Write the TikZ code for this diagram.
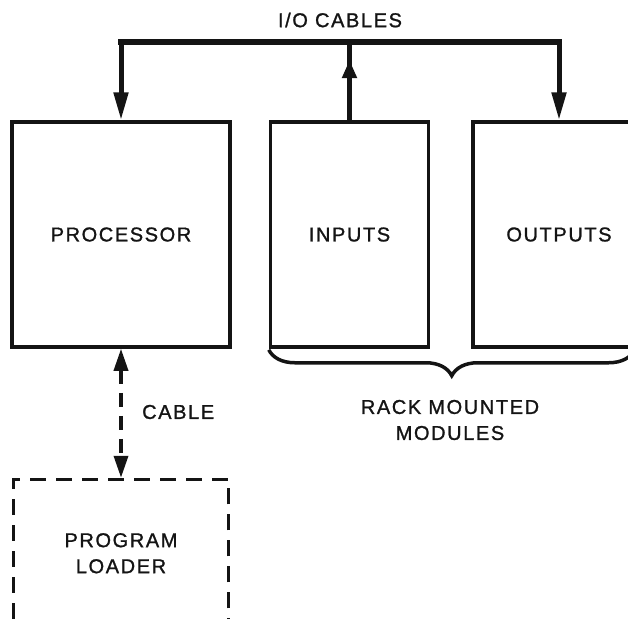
\documentclass[tikz,border=0pt]{standalone}
\usepackage{fontspec}
\setsansfont[LetterSpace=8,FakeBold=1.2]{Liberation Sans}
\usepackage{tikz}
\usetikzlibrary{arrows.meta,positioning,decorations.pathreplacing}
\definecolor{ink}{RGB}{20,20,20}

\begin{document}
\begin{tikzpicture}[x=1pt,y=-1pt,
  font=\sffamily\fontsize{20}{26}\selectfont,
  box/.style={draw=ink,line width=3.5pt,minimum height=225pt,align=center,inner sep=0pt,text=ink},
  ldr/.style={box,line width=3pt,dash pattern=on 16pt off 10pt,minimum width=215pt,minimum height=148pt},
  lbl/.style={text=ink,align=center,inner sep=0pt},
  ar/.style={-{Triangle[length=28pt,width=14pt]},line width=5pt,draw=ink},
  upar/.style={ar,-{Triangle[length=18pt,width=14pt]}},
  bus/.style={line width=6pt,draw=ink,line cap=rect},
  dar/.style={{Triangle[length=22pt,width=14pt]}-{Triangle[length=22pt,width=14pt]},
              line width=3.5pt,draw=ink,dash pattern=on 14pt off 9pt},
  brc/.style={decorate,decoration={brace,mirror,amplitude=26pt},line width=3.5pt,draw=ink}]

\useasboundingbox (0,0) rectangle (628,618);
\clip (0,0) rectangle (628,618);

\node[box,minimum width=218pt] (proc) at (121,234.5) {PROCESSOR};
\node[box,minimum width=158pt,right=37pt of proc] (inp) {INPUTS};
\node[box,minimum width=172pt,right=41pt of inp] (outp) {OUTPUTS};
\node[ldr,below=129pt of proc] (ldr) {PROGRAM\\LOADER};

\coordinate (bus) at (0,42);
\coordinate (tipI) at (0,60);
\draw[bus] (proc.north |- bus) -- (outp.north |- bus);
\draw[ar] (proc.north |- bus) -- (proc.north);
\draw[ar] (outp.north |- bus) -- (outp.north);
\draw[line width=5pt,draw=ink] (inp.north) -- (inp.north |- bus);
\draw[upar] (inp.north) -- (inp.north |- tipI);
\draw[dar] (proc.south) -- (ldr.north);

\node[lbl] (iolbl) at (340,20) {I/O CABLES};
\node[lbl,anchor=west] (cbl) at (142,412) {CABLE};
\draw[brc] ([yshift=-1pt]inp.south west) -- ++(366,0);
\node[lbl] (rack) at (450,420) {RACK MOUNTED\\MODULES};
\end{tikzpicture}
\end{document}
